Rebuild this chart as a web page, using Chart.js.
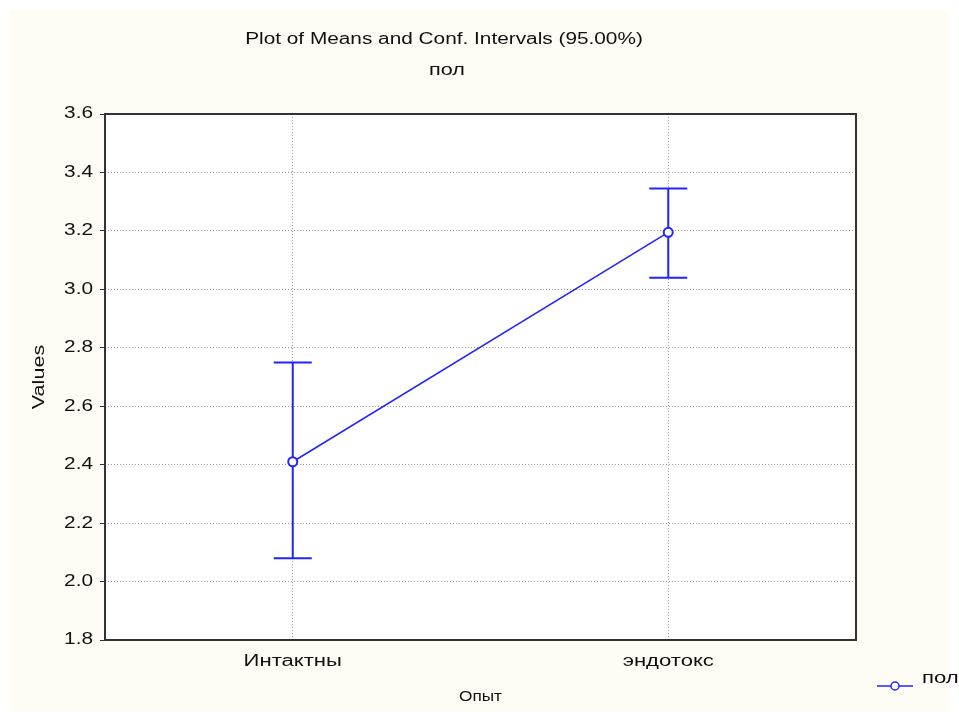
<!DOCTYPE html>
<html>
<head>
<meta charset="utf-8">
<script src="https://cdn.jsdelivr.net/npm/chart.js@4.4.0/dist/chart.umd.min.js"></script>
<style>
  html, body { margin: 0; padding: 0; background: #fff; }
  #wrap { width: 959px; height: 722px; }
</style>
</head>
<body>
<div id="wrap"><canvas id="myChart1" width="959" height="722"></canvas></div>
<script>
// values
var groups = ['Интактны', 'эндотокс'];
var means = [2.41, 3.195];
var lowerCI = [2.08, 3.04];
var upperCI = [2.75, 3.345];
var yTicks = [1.8, 2.0, 2.2, 2.4, 2.6, 2.8, 3.0, 3.2, 3.4, 3.6];
var seriesName = 'пол';

var blue = '#2323ff';
var fontFam = '"Liberation Sans", Arial, sans-serif';

// the original font is much wider than Arial, so stretch text along its baseline
function wideText(ctx, txt, x, y, align, size, sx, rot) {
    ctx.save();
    ctx.translate(x, y);
    if (rot) ctx.rotate(rot);
    ctx.scale(sx, 1);
    ctx.font = size + 'px ' + fontFam;
    ctx.fillStyle = '#111';
    ctx.textAlign = align;
    ctx.textBaseline = 'middle';
    ctx.fillText(txt, 0, 0);
    ctx.restore();
}

// cream page, white plot, black frame, all texts, legend
var decor = {
    id: 'decor',
    beforeDraw: function (chart) {
        var ctx = chart.ctx, a = chart.chartArea;
        ctx.save();
        ctx.fillStyle = '#fffbf5';
        ctx.fillRect(10, 10, 939, 702);
        ctx.fillStyle = '#ffffff';
        ctx.fillRect(a.left, a.top, a.right - a.left, a.bottom - a.top);
        ctx.restore();
    },
    afterDraw: function (chart) {
        var ctx = chart.ctx, a = chart.chartArea;
        var xs = chart.scales.x, ys = chart.scales.y;
        ctx.save();
        ctx.strokeStyle = '#333';
        ctx.lineWidth = 2;
        ctx.strokeRect(a.left, a.top, a.right - a.left, a.bottom - a.top);
        ctx.restore();

        wideText(ctx, 'Plot of Means and Conf. Intervals (95.00%)', 444, 40, 'center', 16, 1.3);
        wideText(ctx, seriesName, 447, 71, 'center', 16, 1.35);

        // axis tick labels, from the library's scales
        ys.ticks.forEach(function (t) {
            wideText(ctx, Number(t.value).toFixed(1), a.left - 12, ys.getPixelForValue(t.value), 'right', 16, 1.3);
        });
        xs.ticks.forEach(function (t, i) {
            wideText(ctx, xs.getLabelForValue(t.value), xs.getPixelForTick(i), 662, 'center', 16, 1.38);
        });
        wideText(ctx, 'Опыт', (a.left + a.right) / 2, 697, 'center', 14, 1.23);
        wideText(ctx, 'Values', 40, (a.top + a.bottom) / 2, 'center', 16, 1.35, -Math.PI / 2);

        // legend
        ctx.save();
        ctx.strokeStyle = blue;
        ctx.lineWidth = 1.5;
        ctx.beginPath();
        ctx.moveTo(877, 686);
        ctx.lineTo(913, 686);
        ctx.stroke();
        ctx.beginPath();
        ctx.arc(895, 686, 4, 0, Math.PI * 2);
        ctx.fillStyle = '#fff';
        ctx.fill();
        ctx.stroke();
        ctx.restore();
        wideText(ctx, chart.data.datasets[0].label, 922, 679, 'left', 16, 1.38);
    }
};

// confidence interval whiskers
var whiskers = {
    id: 'whiskers',
    beforeDatasetsDraw: function (chart) {
        var ctx = chart.ctx, xs = chart.scales.x, ys = chart.scales.y;
        ctx.save();
        ctx.strokeStyle = blue;
        ctx.lineWidth = 2;
        for (var i = 0; i < groups.length; i++) {
            var x = xs.getPixelForValue(i);
            var yLo = ys.getPixelForValue(lowerCI[i]);
            var yHi = ys.getPixelForValue(upperCI[i]);
            ctx.beginPath();
            ctx.moveTo(x, yLo); ctx.lineTo(x, yHi);
            ctx.moveTo(x - 19, yLo); ctx.lineTo(x + 19, yLo);
            ctx.moveTo(x - 19, yHi); ctx.lineTo(x + 19, yHi);
            ctx.stroke();
        }
        ctx.restore();
    }
};

new Chart('myChart1', {
    type: 'line',
    data: {
        labels: groups,
        datasets: [{
            label: seriesName,
            data: means,
            borderColor: blue,
            borderWidth: 1.5,
            pointRadius: 4.5,
            pointBackgroundColor: '#fff',
            pointBorderColor: blue,
            pointBorderWidth: 2,
            tension: 0
        }]
    },
    options: {
        responsive: false,
        animation: false,
        layout: { padding: { left: 0, top: 114, right: 103, bottom: 0 } },
        plugins: { legend: { display: false }, tooltip: { enabled: false } },
        scales: {
            x: {
                offset: true,
                afterFit: function (s) { s.height = 82; },
                grid: { color: '#9a9a9a', drawTicks: false, offset: false },
                border: { display: false, dash: [1, 2] },
                ticks: { display: false }
            },
            y: {
                min: 1.8,
                max: 3.6,
                afterFit: function (s) { s.width = 105; },
                afterBuildTicks: function (s) { s.ticks = yTicks.map(function (v) { return { value: v }; }); },
                grid: { color: '#9a9a9a', tickLength: 5, tickColor: '#333', tickBorderDash: [] },
                border: { display: false, dash: [1, 2] },
                ticks: { display: false }
            }
        }
    },
    plugins: [decor, whiskers]
});
</script>
</body>
</html>
